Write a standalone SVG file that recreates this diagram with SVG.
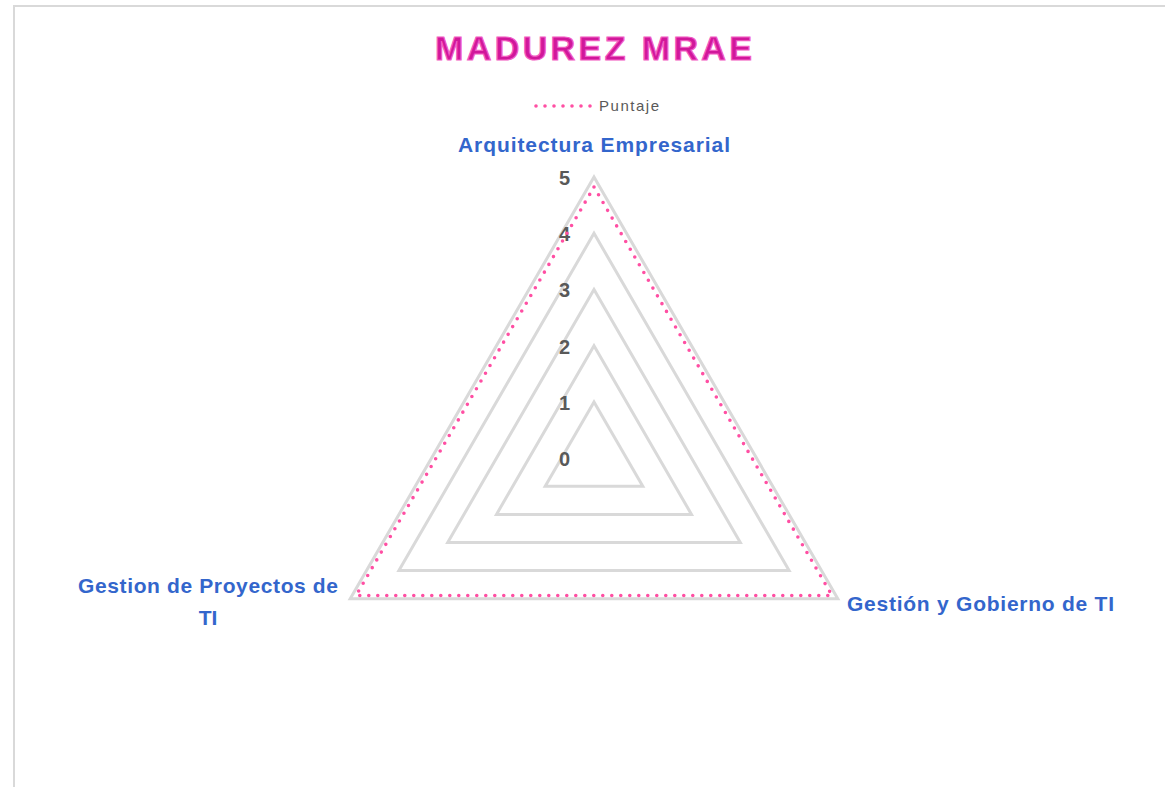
<svg xmlns="http://www.w3.org/2000/svg" width="1165" height="787" viewBox="0 0 1165 787">
<style>
.grid{fill:none;stroke:#D9D9D9;stroke-width:3;stroke-linejoin:miter}
.data{fill:none;stroke:#FF4FA3;stroke-width:3.6;stroke-linecap:round;stroke-dasharray:0 9}
.tick{font-family:"Liberation Sans",Arial,sans-serif;font-weight:bold;font-size:20px;fill:#595959;text-anchor:end}
.cat{font-family:"Liberation Sans",Arial,sans-serif;font-weight:bold;font-size:21px;fill:#3366CC}
</style>
<rect width="1165" height="787" fill="#FFFFFF"/>
<path d="M14,787 V6 H1165" fill="none" stroke="#D9D9D9" stroke-width="2"/>
<g id="title">
<text x="435" y="60" textLength="317" lengthAdjust="spacing" font-family="'Liberation Sans',Arial,sans-serif" font-weight="bold" font-size="34" fill="#D0189A" stroke="#F35CC4" stroke-width="1.2">MADUREZ MRAE</text>
</g>
<g id="legend">
<line x1="536" y1="106" x2="592" y2="106" class="data"/>
<text x="599" y="111" textLength="60" lengthAdjust="spacing" font-family="'Liberation Sans',Arial,sans-serif" font-size="15" fill="#595959">Puntaje</text>
</g>
<g id="grid">
<polygon class="grid" points="594,177 837.8,598.8 350.2,598.8"/>
<polygon class="grid" points="594,233.3 789.1,570.6 398.9,570.6"/>
<polygon class="grid" points="594,289.6 740.3,542.5 447.7,542.5"/>
<polygon class="grid" points="594,345.8 691.5,514.4 496.5,514.4"/>
<polygon class="grid" points="594,402.1 642.8,486.3 545.2,486.3"/>
</g>
<g id="ticks">
<text class="tick" x="570" y="185">5</text>
<text class="tick" x="570" y="241">4</text>
<text class="tick" x="570" y="297">3</text>
<text class="tick" x="570" y="354">2</text>
<text class="tick" x="570" y="410">1</text>
<text class="tick" x="570" y="466">0</text>
</g>
<g id="connectors">
<polygon class="data" points="594,187 832,595.5 356,595.5"/>
</g>
<g id="node-arquitectura">
<text class="cat" x="458" y="152" textLength="272" lengthAdjust="spacing">Arquitectura Empresarial</text>
</g>
<g id="node-gestion-gobierno">
<text class="cat" x="847" y="611" textLength="267" lengthAdjust="spacing">Gestión y Gobierno de TI</text>
</g>
<g id="node-gestion-proyectos">
<text class="cat" x="78" y="593" textLength="260" lengthAdjust="spacing">Gestion de Proyectos de</text>
<text class="cat" x="208" y="625" text-anchor="middle">TI</text>
</g>
</svg>
